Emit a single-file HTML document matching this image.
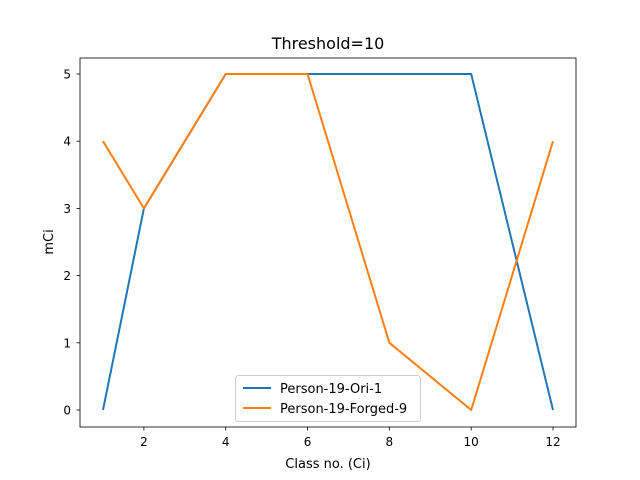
<!DOCTYPE html>
<html><head><meta charset="utf-8"><style>
html,body{margin:0;padding:0;background:#fff;}
svg{display:block;font-family:"DejaVu Sans","Liberation Sans",sans-serif;}
</style></head><body>
<svg id="chart" width="640" height="480" xmlns="http://www.w3.org/2000/svg">
<rect x="0" y="0" width="640" height="480" fill="#fff"/>
<text x="328" y="49" font-size="16" text-anchor="middle">Threshold=10</text>
<g id="plot"></g>
<rect x="80" y="58" width="496" height="369" fill="none" stroke="#000" stroke-width="0.8"/>
<text x="328" y="468" font-size="13" text-anchor="middle">Class no. (Ci)</text>
<text x="0" y="0" font-size="13" text-anchor="middle" transform="translate(53,242) rotate(-90)">mCi</text>
<g>
<rect x="235.5" y="375.5" width="185" height="46" rx="3" fill="#fff" fill-opacity="0.8" stroke="#ccc"/>
<line x1="243" y1="388" x2="271" y2="388" stroke="#1f77b4" stroke-width="2"/>
<text x="280" y="393" font-size="13">Person-19-Ori-1</text>
<line x1="243" y1="408" x2="271" y2="408" stroke="#ff7f0e" stroke-width="2"/>
<text x="280" y="413" font-size="13">Person-19-Forged-9</text>
</g>
</svg>
<script>
const xValues = [1, 2, 4, 6, 8, 10, 12];
const oriValues = [0, 3, 5, 5, 5, 5, 0];
const forgedValues = [4, 3, 5, 5, 1, 0, 4];
const xTicks = [2, 4, 6, 8, 10, 12];
const yTicks = [0, 1, 2, 3, 4, 5];

const NS = "http://www.w3.org/2000/svg";
const plot = document.getElementById('plot');
function sx(v){ return 103 + (v - 1) * (553 - 103) / 11; }
function sy(v){ return 410 - v * (410 - 74) / 5; }
function mk(tag, attrs, parent){
  const e = document.createElementNS(NS, tag);
  for (const k in attrs) e.setAttribute(k, attrs[k]);
  (parent || plot).appendChild(e);
  return e;
}
xTicks.forEach(t => {
  const l = mk('line', {x1: sx(t), x2: sx(t), y1: 427, y2: 430.5, stroke: '#000', 'stroke-width': 0.8});
  
  
  const tx = mk('text', {x: sx(t), y: 446, 'font-size': 12, 'text-anchor': 'middle'});
  tx.textContent = t;
  
  
});
yTicks.forEach(t => {
  const l = mk('line', {x1: 76.5, x2: 80, y1: sy(t), y2: sy(t), stroke: '#000', 'stroke-width': 0.8});
  
  
  const tx = mk('text', {x: 71, y: sy(t) + 4.5, 'font-size': 12, 'text-anchor': 'end'});
  tx.textContent = t;
  
  
});
function series(vals, color, name){
  const pts = vals.map((v, i) => sx(xValues[i]) + ',' + sy(v)).join(' ');
  const p = mk('polyline', {points: pts, fill: 'none', stroke: color, 'stroke-width': 2, 'stroke-linejoin': 'round'});
  
  
}
series(oriValues, '#1f77b4', 'series-ori-line');
series(forgedValues, '#ff7f0e', 'series-forged-line');
</script>
</body></html>
